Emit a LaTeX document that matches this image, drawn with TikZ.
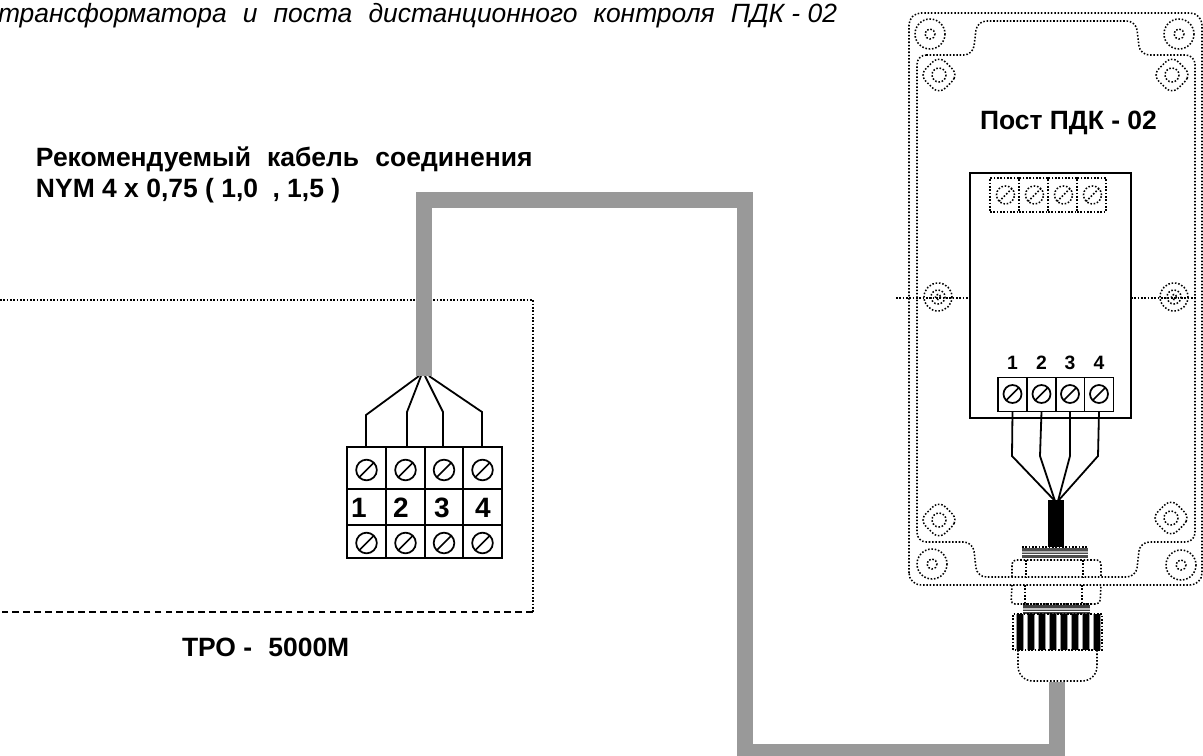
\documentclass[tikz,border=0pt]{standalone}
\usepackage{fontspec}
\setmainfont{Liberation Sans}
\usetikzlibrary{positioning}
\newcommand{\bossmark}[2]{%
\draw [dots,smooth cycle] plot [domain=0:348,samples=30] ({#1+(14.8+1.1*cos(4*\x))*cos(\x)},{#2+(14.8+1.1*cos(4*\x))*sin(\x)});
\draw [dots] (#1,#2) circle [radius=7];
}
\newcommand{\holemark}[2]{%
\draw [dots] (#1,#2) circle [radius=15];
\draw [dots] (#1,#2) circle [radius=5];
}
\begin{document}
\begin{tikzpicture}[line cap=butt,line join=miter,x=0.75pt,y=-0.75pt,
  dots/.style={line width=1.15pt,dash pattern=on 1.15pt off 1.35pt},
  wire/.style={line width=1.35pt},
  cable/.style={line width=12pt,color=black!40},
  cell/.style={draw,line width=1.3pt,minimum width=29*0.75pt,minimum height=34*0.75pt,inner sep=0pt,outer sep=0pt},
  bigcell/.style={draw,line width=1.3pt,minimum width=38.7*0.75pt,inner sep=0pt,outer sep=0pt},
  dotcell/.style={dots,minimum width=29*0.75pt,minimum height=34*0.75pt,inner sep=0pt,outer sep=0pt},
  screw/.style={circle,draw,line width=1.3pt,minimum size=13.5pt,inner sep=0pt,outer sep=0pt},
  dotscrew/.style={circle,dots,draw,minimum size=13.5pt,inner sep=0pt,outer sep=0pt},
  label/.style={inner sep=0pt,outer sep=0pt,anchor=base west,font=\bfseries\fontsize{19.85pt}{22pt}\selectfont},
  num/.style={inner sep=0pt,outer sep=0pt,font=\bfseries\fontsize{14.5pt}{16pt}\selectfont},
  bignum/.style={inner sep=0pt,outer sep=0pt,font=\bfseries\fontsize{21pt}{24pt}\selectfont}]
\useasboundingbox (0,0) rectangle (1203,756);
% texts
\node [label,font=\itshape\fontsize{19.8pt}{22pt}\selectfont] (title) at (-2,23) {трансформатора\hspace{6.6pt} и\hspace{6.6pt} поста\hspace{6.6pt} дистанционного\hspace{6.6pt} контроля\hspace{6.6pt} ПДК - 02};
\node [label] (cabletext) at (36,167) {Рекомендуемый\hspace{6.6pt} кабель\hspace{6.6pt} соединения};
\node [label] (cabletype) at (36,198) {NYM 4 x 0,75 ( 1,0\hspace{5.3pt} , 1,5 )};
\node [label] (posttext) at (980,130) {Пост ПДК - 02};
\node [label] (tpotext) at (182,656) {ТРО -\hspace{6.6pt} 5000М};
% transformer box
\draw [dots] (0,300) -- (533,300) -- (533,612);
\draw [line width=1.1pt,dash pattern=on 5pt off 3.2pt] (533,612) -- (0,612);
% left terminal block
\foreach \i/\xx in {1/366.5,2/405.5,3/444,4/482.5}{
\node [bigcell,minimum height=42*0.75pt] (lt\i) at (\xx,468) {};
\node [bigcell,minimum height=36*0.75pt] (lm\i) at (\xx,507) {};
\node [bigcell,minimum height=33*0.75pt] (lb\i) at (\xx,541.5) {};
\node [screw,minimum size=15.5pt] (ls\i) at (\xx,470) {};
\draw [line width=1.3pt] (ls\i.225) -- (ls\i.45);
\node [screw,minimum size=15.5pt] (lr\i) at (\xx,543) {};
\draw [line width=1.3pt] (lr\i.225) -- (lr\i.45);
}
\node [bignum] (ln1) at (359,508) {1};
\node [bignum] (ln2) at (401,508) {2};
\node [bignum] (ln3) at (442,508) {3};
\node [bignum] (ln4) at (483,508) {4};
% wires to left block
\coordinate (lk1) at (366,415);
\coordinate (lk2) at (407,412);
\coordinate (lk3) at (443,412);
\coordinate (lk4) at (482,412);
\coordinate (lc1) at (419,376);
\coordinate (lc2) at (421,376);
\coordinate (lc3) at (425,376);
\coordinate (lc4) at (429,376);
\foreach \i in {1,2,3,4}
\draw [wire] (lc\i) -- (lk\i) -- (lt\i.north -| lk\i);
% enclosure
\draw [dots,rounded corners=9pt] (909,585) rectangle (1202,13);
\draw [dots,rounded corners=7pt] (917,55) -- (973,55) -- (977,21) -- (1136,21) -- (1140,55) -- (1195,55) -- (1195,542) -- (1140,542) -- (1136,577) -- (977,577) -- (973,542) -- (917,542) -- cycle;
\holemark{930}{34}
\holemark{1179}{34}
\holemark{932}{564}
\holemark{1181}{565}
\bossmark{939}{75}
\bossmark{1172}{75}
\bossmark{939}{520}
\bossmark{1171}{518}
\foreach \xx in {938,1174}{
\draw [dots] (\xx,297) circle [radius=14];
\draw [dots] (\xx,297) circle [radius=7];
\draw [dots] (\xx,297) circle [radius=2.5];
}
% board
\node [draw,line width=1.3pt,minimum width=161*0.75pt,minimum height=245*0.75pt,inner sep=0pt,outer sep=0pt] (board) at (1050.5,295.5) {};
\coordinate (hl) at (896,298);
\coordinate (hr) at (1197,298);
\draw [dots] (hl) -- (board.west |- hl);
\draw [dots] (board.east |- hr) -- (hr);
\foreach \i/\xx in {1/1004.5,2/1033.5,3/1062.5,4/1091.5}{
\node [dotcell,draw] (top\i) at (\xx,195) {};
\node [dotscrew] (ts\i) at (\xx+1,195) {};
\draw [dots] (ts\i.225) -- (ts\i.45);
}
\foreach \i/\xx in {1/1012.5,2/1041.5,3/1070,4/1099}{
\node [cell] (term\i) at (\xx,394.5) {};
\node [screw] (ps\i) at (\xx,394) {};
\draw [line width=1.3pt] (ps\i.225) -- (ps\i.45);
\node [num] (pn\i) at (\xx,363) {\i};
}
% wires to post terminals
\node [fill=black,minimum width=16*0.75pt,minimum height=47*0.75pt,inner sep=0pt,outer sep=0pt] (core) at (1056,523.5) {};
\coordinate (pk1) at (1012,456);
\coordinate (pk2) at (1040,456);
\coordinate (pk3) at (1070,456);
\coordinate (pk4) at (1098,456);
\coordinate (pc1) at (1055,501);
\coordinate (pc2) at (1055,501);
\coordinate (pc3) at (1058,501);
\coordinate (pc4) at (1058,501);
\foreach \i in {1,2,3,4}
\draw [wire] (term\i.south) -- (pk\i) -- (pc\i);
% gland
\fill [black!70] (1022,548) rectangle (1088,558);
\fill [black!30] (1022,551) rectangle (1088,553);
\draw [white,line width=0.6pt] (1022,554.5) -- (1088,554.5);
\draw [dots] (1022,547) -- (1088,547);
\draw [dots,rounded corners=3pt] (1012,577) -- (1012,560) -- (1101,560) -- (1101,577);
\draw [dots] (1026,560) -- (1026,577);
\draw [dots] (1083,560) -- (1083,577);
\draw [dots,rounded corners=3pt] (1012,585) -- (1011,604) -- (1100,604) -- (1101,585);
\draw [dots] (1025,585) -- (1025,604);
\draw [dots] (1082,585) -- (1082,604);
\fill [black!75] (1023,605) rectangle (1090,614);
\fill [black!25] (1023,608) rectangle (1090,610);
\draw [white,line width=0.6pt] (1023,611) -- (1090,611);
\draw [dots] (1023,604) -- (1090,604);
% ribs of the nut
\foreach \i in {0,...,7}{
\fill [black!40] (1020+11*\i-4.2,614) rectangle (1020+11*\i+4.2,650);
\fill [black] (1020+11*\i-2.7,614) rectangle (1020+11*\i+2.7,650);
}
\draw [dots] (1013,650) -- (1013,614) -- (1102,614) -- (1102,650) -- cycle;
\draw [dots,rounded corners=11pt] (1018,650) -- (1018,681) -- (1097,681) -- (1097,650);
% cable
\coordinate (cableend) at (1057,682);
\draw [cable] (cableend) -- (1057,752) -- (745,752) -- (745,200.5) -- (424,200.5) -- (424,376);
\end{tikzpicture}
\end{document}
